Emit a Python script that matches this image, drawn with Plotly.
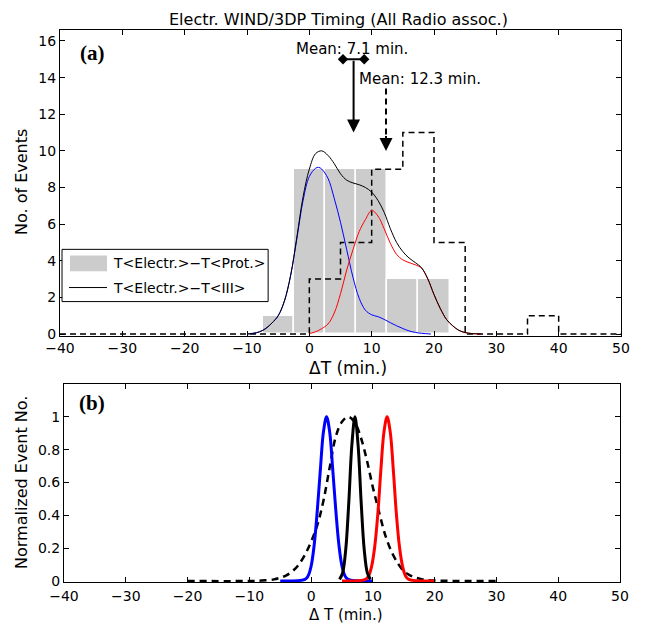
import plotly.graph_objects as go

# ---- data ----
# (a) histogram of T<Electr.>-T<Prot.> (5 min bins)
prot_centers = [-5, 0, 5, 10, 15, 20]
prot_counts = [1, 9, 9, 9, 3, 3]

# (a) stairs histogram of T<Electr.>-T<III> (left bin edges)
iii_edges = [-40, 0, 5, 10, 15, 20, 25, 35, 40, 50]
iii_counts = [0, 3, 5, 9, 11, 5, 0, 1, 0, 0]

# (a) smoothed curves
blue_x = [-10, -9, -8, -7, -6, -5, -4, -3, -2, -1, 0, 1, 1.5, 2, 3, 4, 5, 6, 7,
          8, 9, 10, 11, 12, 13, 14, 15, 16, 17, 18, 19.5]
blue_y = [0, 0.04, 0.12, 0.3, 0.6, 1.0, 1.8, 3.2, 5.2, 7.3, 8.6, 9.05, 9.1, 9.0,
          8.5, 7.4, 6.1, 4.6, 3.1, 1.95, 1.3, 1.05, 0.95, 0.8, 0.62, 0.45, 0.3,
          0.17, 0.09, 0.04, 0]
red_x = [0, 1, 2, 3, 4, 5, 6, 7, 8, 9, 10, 11, 12, 13, 14, 15, 16, 17, 18, 19,
         20, 21, 22, 23, 24, 25, 26, 27.5]
red_y = [0.03, 0.12, 0.3, 0.55, 1.15, 2.2, 3.5, 4.6, 5.6, 6.25, 6.75, 6.45, 5.75,
         4.95, 4.35, 4.05, 3.9, 3.78, 3.6, 3.0, 2.15, 1.4, 0.8, 0.45, 0.2, 0.08,
         0.03, 0]
black_x = [-10, -9, -8, -7, -6, -5, -4, -3, -2, -1, 0, 1, 2, 3, 4, 5, 6, 7, 8, 9,
           10, 11, 12, 13, 14, 15, 16, 17, 18, 19, 20, 21, 22, 23, 24, 25, 26, 27.5]
black_y = [0, 0.04, 0.12, 0.3, 0.6, 1.0, 1.8, 3.2, 5.3, 7.5, 9.0, 9.85, 10.0, 9.75,
           9.3, 8.75, 8.4, 8.25, 8.15, 8.0, 7.75, 7.3, 6.65, 5.75, 5.0, 4.5, 4.15,
           3.9, 3.62, 3.02, 2.16, 1.4, 0.8, 0.45, 0.2, 0.08, 0.03, 0]

# (a) means
mean_prot, err_prot = 7.1, 1.7
mean_iii = 12.3

# (b) normalized distributions
nb_blue_x = [-5, -1, -0.5, 0, 0.5, 1, 1.5, 2, 2.5, 3, 3.5, 4, 4.5, 5, 5.5, 6, 10]
nb_blue_y = [0, 0.01, 0.03, 0.09, 0.22, 0.43, 0.68, 0.91, 1.0, 0.91, 0.68, 0.43,
             0.22, 0.09, 0.03, 0.01, 0]
nb_black_x = [4.6, 5.1, 5.6, 6.1, 6.6, 7.1, 7.6, 8.1, 8.6, 9.1, 9.6]
nb_black_y = [0.01, 0.05, 0.19, 0.48, 0.83, 1.0, 0.83, 0.48, 0.19, 0.05, 0.01]
nb_red_x = [5, 8.8, 9.3, 9.8, 10.3, 10.8, 11.3, 11.8, 12.3, 12.8, 13.3, 13.8,
            14.3, 14.8, 15.3, 15.8, 20]
nb_red_y = [0, 0.01, 0.03, 0.09, 0.21, 0.41, 0.68, 0.91, 1.0, 0.91, 0.68, 0.41,
            0.21, 0.09, 0.03, 0.01, 0]
nb_dash_x = [-20, -10, -8, -6, -5, -4, -3, -2, -1, 0, 1, 2, 3, 4, 5, 6, 7, 8, 9,
             10, 11, 12, 13, 14, 15, 16, 17, 18, 20, 30]
nb_dash_y = [0, 0, 0.003, 0.01, 0.02, 0.035, 0.06, 0.1, 0.16, 0.24, 0.34, 0.49,
             0.69, 0.88, 0.97, 1.0, 0.97, 0.88, 0.74, 0.57, 0.42, 0.28, 0.18, 0.11,
             0.06, 0.035, 0.02, 0.01, 0.003, 0]

x_ticks = list(range(-40, 51, 10))

FONT = "DejaVu Sans"
W, H = 648, 628
OFF = 8  # page body margin


def fx(p):
    # screen pixel -> paper x
    return (p - OFF) / W


def fy(p):
    # screen pixel -> paper y
    return 1 - (p - OFF) / H


fig = go.Figure()

# ---- panel (a) ----
fig.add_trace(go.Bar(x=prot_centers, y=prot_counts, width=5,
                     marker=dict(color="#cccccc", line=dict(color="white", width=1.5)),
                     xaxis="x", yaxis="y"))
fig.add_trace(go.Scatter(x=iii_edges, y=iii_counts, mode="lines", line_shape="hv",
                         line=dict(color="black", width=1.5, dash="6px,4px"),
                         xaxis="x", yaxis="y"))
fig.add_trace(go.Scatter(x=blue_x, y=blue_y, mode="lines", line_shape="spline",
                         line=dict(color="blue", width=1), xaxis="x", yaxis="y"))
fig.add_trace(go.Scatter(x=red_x, y=red_y, mode="lines", line_shape="spline",
                         line=dict(color="red", width=1), xaxis="x", yaxis="y"))
fig.add_trace(go.Scatter(x=black_x, y=black_y, mode="lines", line_shape="spline",
                         line=dict(color="black", width=1), xaxis="x", yaxis="y"))

# mean error bar
fig.add_trace(go.Scatter(x=[mean_prot - err_prot, mean_prot + err_prot], y=[15, 15],
                         mode="lines+markers",
                         line=dict(color="black", width=2),
                         marker=dict(symbol="diamond", size=8, color="black"),
                         xaxis="x", yaxis="y"))
# dashed arrow shaft
fig.add_trace(go.Scatter(x=[mean_iii, mean_iii], y=[13.4, 10.6], mode="lines",
                         line=dict(color="black", width=2, dash="6px,4px"),
                         xaxis="x", yaxis="y"))

# ---- panel (b) ----
fig.add_trace(go.Scatter(x=nb_dash_x, y=nb_dash_y, mode="lines", line_shape="spline",
                         line=dict(color="black", width=2.5, dash="7px,5px"),
                         xaxis="x2", yaxis="y2"))
fig.add_trace(go.Scatter(x=nb_blue_x, y=nb_blue_y, mode="lines", line_shape="spline",
                         line=dict(color="blue", width=3), xaxis="x2", yaxis="y2"))
fig.add_trace(go.Scatter(x=nb_red_x, y=nb_red_y, mode="lines", line_shape="spline",
                         line=dict(color="red", width=3), xaxis="x2", yaxis="y2"))
fig.add_trace(go.Scatter(x=nb_black_x, y=nb_black_y, mode="lines", line_shape="spline",
                         line=dict(color="black", width=3), xaxis="x2", yaxis="y2"))

axis_style = dict(showline=True, linecolor="black", linewidth=1, mirror="ticks",
                  ticks="inside", ticklen=5, tickwidth=1, tickcolor="black",
                  showgrid=False, zeroline=False, automargin=False,
                  tickfont=dict(family=FONT, size=14, color="black"))

fig.update_layout(
    width=W, height=H,
    margin=dict(l=0, r=0, t=0, b=0, autoexpand=False),
    paper_bgcolor="white", plot_bgcolor="white",
    showlegend=False,
    bargap=0,
    xaxis=dict(domain=[fx(60), fx(621)], range=[-40, 50], tickvals=x_ticks,
               anchor="y", **axis_style),
    yaxis=dict(domain=[fy(335.5), fy(30)], range=[-0.08, 16.6],
               tickvals=list(range(0, 17, 2)), anchor="x", **axis_style),
    xaxis2=dict(domain=[fx(64), fx(620)], range=[-40, 50], tickvals=x_ticks,
                anchor="y2", ticklabelstandoff=1, **axis_style),
    yaxis2=dict(domain=[fy(582), fy(384)], range=[-0.006, 1.2],
                tickvals=[0, 0.2, 0.4, 0.6, 0.8, 1], anchor="x2", **axis_style),
)

txt = dict(family=FONT, size=15, color="black")
lab = dict(family=FONT, size=16, color="black")
mid = dict(xanchor="center", yanchor="middle", showarrow=False)
ann = [
    dict(text="Electr. WIND/3DP Timing (All Radio assoc.)", x=fx(338), y=fy(19),
         xref="paper", yref="paper", font=dict(family=FONT, size=16, color="black"),
         **mid),
    dict(text="No. of Events", x=fx(21), y=fy(182), xref="paper", yref="paper",
         textangle=-90, font=lab, **mid),
    dict(text="ΔT (min.)", x=fx(348), y=fy(368), xref="paper", yref="paper",
         font=dict(family=FONT, size=17, color="black"), **mid),
    dict(text="Normalized Event No.", x=fx(21), y=fy(483), xref="paper",
         yref="paper", textangle=-90, font=lab, **mid),
    dict(text="Δ T (min.)", x=fx(346), y=fy(615), xref="paper", yref="paper",
         font=dict(family=FONT, size=15, color="black"), **mid),
    dict(text="<b>(a)</b>", x=0.032, y=0.925, xref="x domain", yref="y domain",
         xanchor="left", yanchor="middle", showarrow=False,
         font=dict(family="Liberation Serif", size=21, color="black")),
    dict(text="<b>(b)</b>", x=0.024, y=0.905, xref="x2 domain", yref="y2 domain",
         xanchor="left", yanchor="middle", showarrow=False,
         font=dict(family="Liberation Serif", size=21, color="black")),
    dict(text="Mean: %.1f min." % mean_prot, x=6.85, y=15.57, xref="x", yref="y",
         font=txt, **mid),
    dict(text="Mean: %.1f min." % mean_iii, x=17.7, y=13.9, xref="x", yref="y",
         font=txt, **mid),
    # solid arrow to mean 7.1
    dict(text="", x=mean_prot, y=11, ax=mean_prot, ay=15, xref="x", yref="y",
         axref="x", ayref="y", showarrow=True, arrowhead=2, arrowsize=1.3,
         arrowwidth=2, arrowcolor="black", standoff=0, startstandoff=0),
    # head of dashed arrow to mean 12.3
    dict(text="", x=mean_iii, y=10, ax=mean_iii, ay=10.9, xref="x", yref="y",
         axref="x", ayref="y", showarrow=True, arrowhead=2, arrowsize=1.3,
         arrowwidth=2, arrowcolor="black", standoff=0, startstandoff=0),
    # legend texts
    dict(text="T&lt;Electr.&gt;−T&lt;Prot.&gt;", x=0.091, y=0.236, xref="x domain",
         yref="y domain", xanchor="left", yanchor="middle", showarrow=False,
         font=dict(family=FONT, size=14, color="black")),
    dict(text="T&lt;Electr.&gt;−T&lt;III&gt;", x=0.091, y=0.157, xref="x domain",
         yref="y domain", xanchor="left", yanchor="middle", showarrow=False,
         font=dict(family=FONT, size=14, color="black")),
]

shapes = [
    dict(type="rect", xref="x domain", yref="y domain", x0=0.0036, x1=0.371,
         y0=0.111, y1=0.282, line=dict(color="black", width=1), fillcolor="white",
         layer="above"),
    dict(type="rect", xref="x domain", yref="y domain", x0=0.0178, x1=0.0838,
         y0=0.21, y1=0.262, line=dict(width=0), fillcolor="#cccccc", layer="above"),
    dict(type="line", xref="x domain", yref="y domain", x0=0.0160, x1=0.0838,
         y0=0.157, y1=0.157, line=dict(color="black", width=1), layer="above"),
]

fig.update_layout(annotations=ann, shapes=shapes)

fig.write_html("out.html")
